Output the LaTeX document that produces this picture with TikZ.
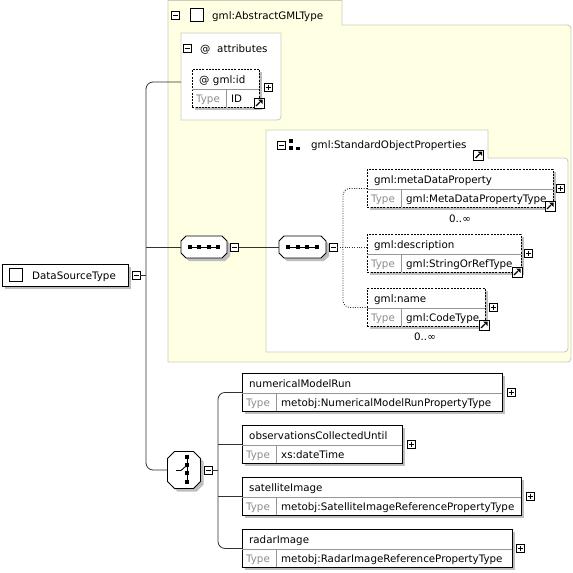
\documentclass[tikz,border=0pt]{standalone}
\usepackage{fontspec}
\setmainfont{DejaVu Sans}
\usetikzlibrary{shadows}
\definecolor{grpyel}{RGB}{255,255,228}
\definecolor{grpline}{RGB}{204,204,184}
\definecolor{shd}{RGB}{190,190,190}
\definecolor{typegray}{RGB}{140,140,140}
\definecolor{divgray}{RGB}{150,150,150}
\definecolor{linec}{RGB}{50,50,50}
\tikzset{
  txt/.style={font=\fontsize{10.3}{12}\selectfont, inner sep=0, anchor=base west},
  typetxt/.style={txt, text=typegray},
  boxshadow/.style={drop shadow={shadow xshift=3pt, shadow yshift=-3pt, fill=shd, opacity=1}},
  ebox/.style={draw=black, line width=0.9pt, fill=white, inner sep=0, anchor=north west, boxshadow},
  obox/.style={ebox, dash pattern=on 2pt off 1.2pt},
  pmbox/.style={draw=black, line width=0.7pt, fill=white, minimum size=8, inner sep=0},
  icobox/.style={draw=black, line width=0.8pt, fill=white, minimum size=10, inner sep=0},
  conn/.style={draw=linec, line width=0.8pt},
  dconn/.style={conn, dash pattern=on 1pt off 1.4pt},
  grp/.style={draw=grpline, line width=0.8pt},
  octline/.style={draw=black, line width=0.8pt, fill=white},
}
\newcommand\minusbox[2]{\node[pmbox] (#1) at (#2) {}; \draw[line width=0.7pt] (#1.center) ++(-2.5,0) -- ++(5,0);}
\newcommand\plusbox[2]{\node[pmbox] (#1) at (#2) {}; \draw[line width=0.7pt] (#1.center) ++(-2.5,0) -- ++(5,0) (#1.center) ++(0,-2.5) -- ++(0,5);}
\newcommand\linkicon[2]{\node[icobox] (#1) at (#2) {}; \draw[line width=1.3pt] (#1.center) ++(-3,3) -- ++(4,-4); \fill (#1.center) ++(3.5,-3.5) -- ++(-4.5,0) -- ++(4.5,4.5) -- cycle;}
\newcommand\elem[7]{%
  \node[#5, minimum width=#4, minimum height=38] (#1) at (#2,#3) {};
  \draw[divgray, line width=0.6pt] (#2,#3+20) -- (#2+#4,#3+20) (#2+34,#3+20) -- (#2+34,#3+38);
  \node[txt] (#1-t) at (#2+7,#3+14) {#6};
  \node[typetxt] (#1-k) at (#2+4,#3+33) {Type};
  \node[txt] (#1-v) at (#2+39,#3+33) {#7};
}
% octagon: name, cx, cy, half width, half height, chamfer
\newcommand\octa[6]{%
  \begin{scope}[shift={(3,3)}]
  \fill[shd] (#2-#4+#6,#3-#5) -- (#2+#4-#6,#3-#5) -- (#2+#4,#3-#5+#6) -- (#2+#4,#3+#5-#6) -- (#2+#4-#6,#3+#5) -- (#2-#4+#6,#3+#5) -- (#2-#4,#3+#5-#6) -- (#2-#4,#3-#5+#6) -- cycle;
  \end{scope}
  \path[octline] (#2-#4+#6,#3-#5) -- (#2+#4-#6,#3-#5) -- (#2+#4,#3-#5+#6) -- (#2+#4,#3+#5-#6) -- (#2+#4-#6,#3+#5) -- (#2-#4+#6,#3+#5) -- (#2-#4,#3+#5-#6) -- (#2-#4,#3-#5+#6) -- cycle;
  \node[inner sep=0, minimum width=2*#4, minimum height=2*#5] (#1) at (#2,#3) {};
}
\begin{document}
\begin{tikzpicture}[x=1pt,y=-1pt]
\useasboundingbox (0,0) rectangle (573,573);
\fill[white] (0,0) rectangle (573,573);

% outer group gml:AbstractGMLType
\draw[grp, fill=grpyel] (168,0.5) -- (342,0.5) -- (342,25) -- (563,25) .. controls (571,25) .. (571,33) -- (571,354) .. controls (571,362) .. (563,362) -- (168,362) -- cycle;
\minusbox{gm}{175.5,15}
\node[draw=black, line width=0.8pt, fill=white, minimum size=13, inner sep=0] (gicon) at (196.5,14.5) {};
\node[txt] (gtitle) at (212,19) {gml:AbstractGMLType};

% attributes
\draw[grp, fill=white] (181,33) -- (281,33) -- (281,112) .. controls (281,120) .. (273,120) -- (181,120) -- cycle;
\minusbox{am}{187,48}
\node[txt] (aat) at (200,52) {@};
\node[txt] (atitle) at (217,52) {attributes};
\elem{idb}{192}{69}{67}{obox}{@\hspace{3.5pt}gml:id}{ID}
\plusbox{idp}{268,87}
\linkicon{idl}{259,103}

% gml:StandardObjectProperties group
\draw[grp, fill=white] (266,130) -- (488,130) -- (488,158) -- (560,158) .. controls (568,158) .. (568,166) -- (568,344) .. controls (568,352) .. (560,352) -- (266,352) -- cycle;
\minusbox{sm}{281.5,145}
\fill (289,139) rectangle (293,143);
\fill (289,146) rectangle (293,150);
\fill (296,146.5) rectangle (300,150);
\node[txt] (stitle) at (311,148) {gml:StandardObjectProperties};
\linkicon{sl}{478.5,155}

\elem{md}{367}{169}{186}{obox}{gml:metaDataProperty}{gml:MetaDataPropertyType}
\plusbox{mdp}{560,188}
\linkicon{mdl}{550,206}
\node[txt, anchor=base] (mdocc) at (460,222) {0..∞};

\elem{desc}{367}{234}{154}{obox}{gml:description}{gml:StringOrRefType}
\plusbox{descp}{528,253}
\linkicon{descl}{517,272}

\elem{nm}{367}{288}{118}{obox}{gml:name}{gml:CodeType}
\plusbox{nmp}{493,307}
\linkicon{nml}{484,325}
\node[txt, anchor=base] (nmocc) at (425,340) {0..∞};

% sequences
\octa{seqA}{204}{247}{23}{11}{5}
\draw[line width=1pt] (seqA.center) ++(-15,0) -- ++(30,0);
\foreach \d in {-14.4,-4.8,4.8,14.4} \fill (seqA.center) ++(\d-2,-2) rectangle ++(4,4);
\minusbox{seqAm}{234.5,247}

\octa{seqB}{302.5}{247}{23.5}{11}{5}
\draw[line width=1pt] (seqB.center) ++(-15,0) -- ++(30,0);
\foreach \d in {-14.4,-4.8,4.8,14.4} \fill (seqB.center) ++(\d-2,-2) rectangle ++(4,4);
\minusbox{seqBm}{333,247}

% choice
\octa{ch}{184}{470}{16.5}{18.5}{7}
\draw[line width=1pt] (ch.center) ++(3,-14) -- ++(0,28);
\foreach \d in {-13,-5,3,11.5} \fill (ch.center) ++(1,\d-2) rectangle ++(4,4);
\draw[line width=0.9pt] (ch.center) ++(-8,0.5) -- ++(5,0) -- ++(5,-4.5);
\minusbox{chm}{208,470}

% bottom elements
\elem{nmr}{242}{373}{260}{ebox}{numericalModelRun}{metobj:NumericalModelRunPropertyType}
\plusbox{nmrp}{511,392}
\elem{obs}{242}{425}{160}{ebox}{observationsCollectedUntil}{xs:dateTime}
\plusbox{obsp}{411,444}
\elem{sat}{242}{477}{279}{ebox}{satelliteImage}{metobj:SatelliteImageReferencePropertyType}
\plusbox{satp}{530,496}
\elem{rad}{242}{529}{270}{ebox}{radarImage}{metobj:RadarImageReferencePropertyType}
\plusbox{radp}{520,548}

% root
\node[ebox, minimum width=126, minimum height=22] (dst) at (2,264) {};
\node[draw=black, line width=0.8pt, minimum size=13, inner sep=0] (dsticon) at (15.5,275) {};
\node[txt] (dsttext) at (32,279) {DataSourceType};
\minusbox{dstm}{136,275}

% connectors
\coordinate (attrin) at (181,82);
\draw[conn, rounded corners=7] (attrin) -- (146,82) -- (146,470) -- (ch.west);
\draw[conn] (dstm.east) -- (146,275);
\draw[conn] (146,247) -- (seqA.west);
\draw[conn] (seqAm.east) -- (seqB.west);
\coordinate (sp) at (343,0);
\draw[dconn] (seqBm.east) -- (seqBm.east -| desc.west);
\draw[dconn, rounded corners=7] (md.west) -- (md.west -| sp) -- (nm.west -| sp) -- (nm.west);
\coordinate (csp) at (218,0);
\draw[conn] (chm.east) -- (chm.east -| csp);
\draw[conn, rounded corners=7] (nmr.west) -- (nmr.west -| csp) -- (rad.west -| csp) -- (rad.west);
\draw[conn] (obs.west -| csp) -- (obs.west);
\draw[conn] (sat.west -| csp) -- (sat.west);
\end{tikzpicture}
\end{document}
